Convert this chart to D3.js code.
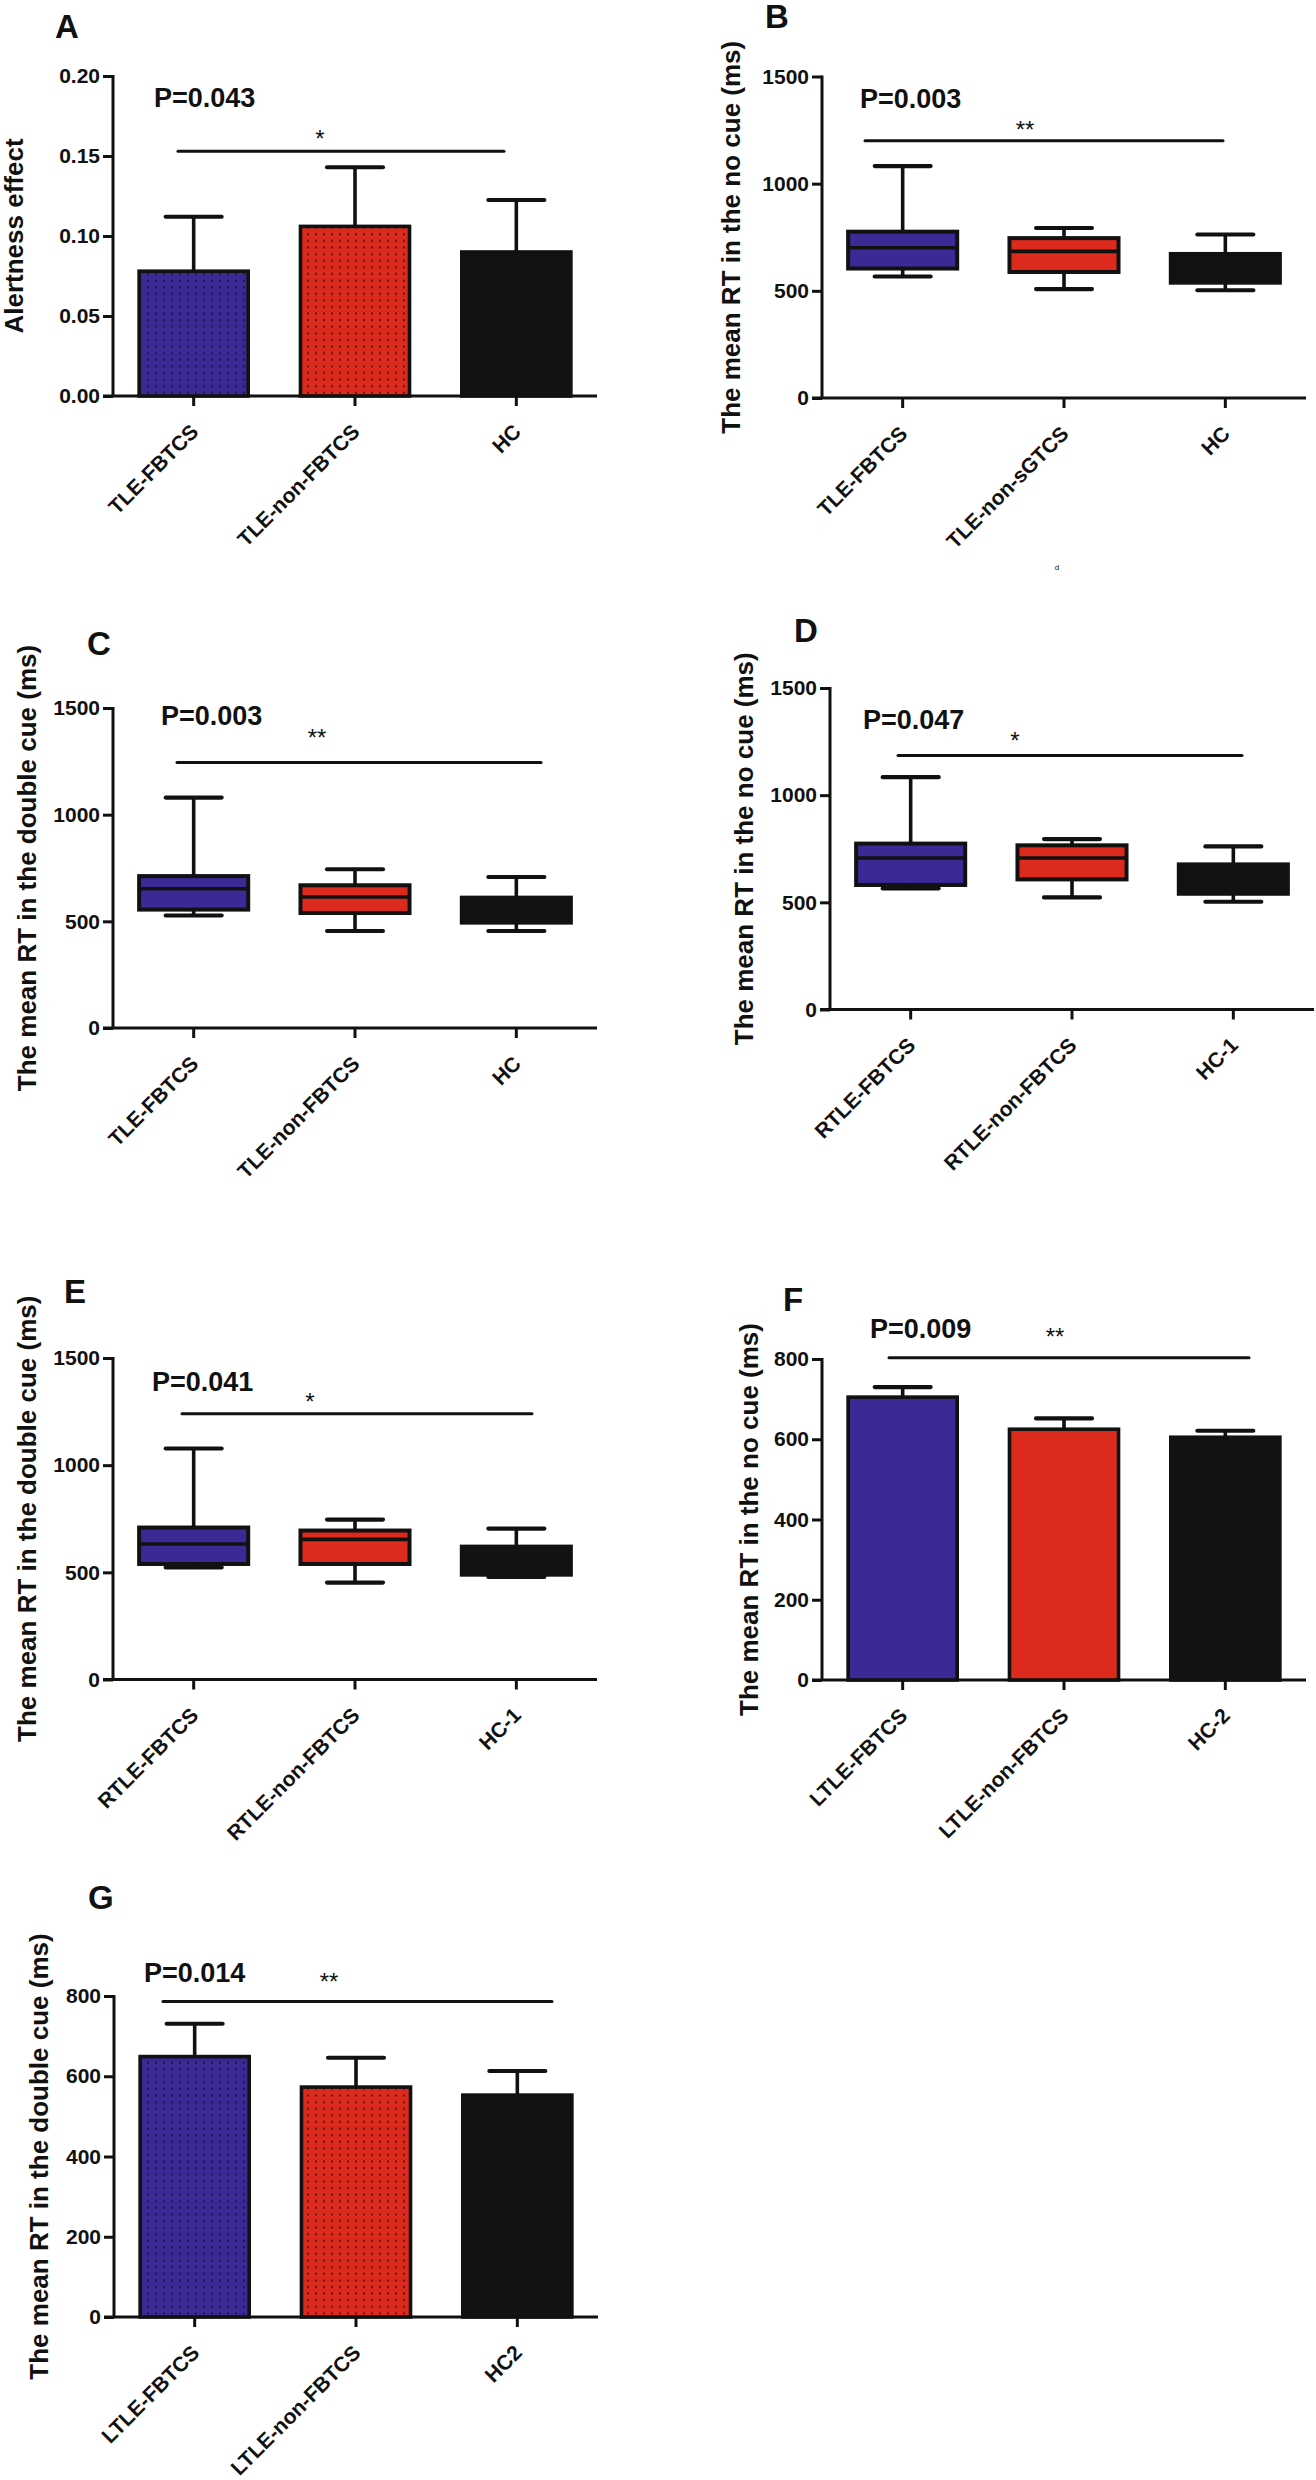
<!DOCTYPE html>
<html><head><meta charset="utf-8">
<script src="https://cdn.jsdelivr.net/npm/d3@7"></script>
<style>
body{margin:0;background:#fff}
svg{display:block}
text{font-family:"Liberation Sans",Arial,Helvetica,sans-serif;fill:#111}
</style>
</head><body>
<svg id="c" width="1316" height="2480"></svg>
<script>
// ---------------- DATA ----------------
// Panel A: bar (mean + upper error)
const catsA = ["TLE-FBTCS", "TLE-non-FBTCS", "HC"];
const meanA = [0.078, 0.106, 0.090];
const errTopA = [0.112, 0.143, 0.1225];
const ticksA = [0, 0.05, 0.10, 0.15, 0.20];

// Panel B: box plots [min, q1, median, q3, max]
const catsB = ["TLE-FBTCS", "TLE-non-sGTCS", "HC"];
const boxB = [[567, 604, 701, 776, 1082], [508, 588, 684, 746, 793], [503, 538, 615, 672, 763]];
const ticksB = [0, 500, 1000, 1500];

// Panel C
const catsC = ["TLE-FBTCS", "TLE-non-FBTCS", "HC"];
const boxC = [[527, 555, 653, 712, 1080], [455, 539, 614, 669, 744], [455, 494, 560, 611, 708]];
const ticksC = [0, 500, 1000, 1500];

// Panel D
const catsD = ["RTLE-FBTCS", "RTLE-non-FBTCS", "HC-1"];
const boxD = [[565, 581, 707, 774, 1084], [523, 607, 707, 766, 795], [503, 540, 620, 677, 761]];
const ticksD = [0, 500, 1000, 1500];

// Panel E
const catsE = ["RTLE-FBTCS", "RTLE-non-FBTCS", "HC-1"];
const boxE = [[523, 539, 632, 709, 1078], [452, 539, 654, 695, 746], [478, 489, 560, 620, 704]];
const ticksE = [0, 500, 1000, 1500];

// Panel F: bars
const catsF = ["LTLE-FBTCS", "LTLE-non-FBTCS", "HC-2"];
const meanF = [705, 625, 605];
const errTopF = [730, 652, 621];
const ticksF = [0, 200, 400, 600, 800];

// Panel G: bars
const catsG = ["LTLE-FBTCS", "LTLE-non-FBTCS", "HC2"];
const meanG = [649, 573, 553];
const errTopG = [731, 646, 613];
const ticksG = [0, 200, 400, 600, 800];

const pValues = ["P=0.043", "P=0.003", "P=0.003", "P=0.047", "P=0.041", "P=0.009", "P=0.014"];
const stars = ["*", "**", "**", "*", "*", "**", "**"];
const sigLevel = [0.153, 1200, 1245, 1185, 1240, 803, 786];
const yTitles = ["Alertness effect", "The mean RT in the no cue (ms)", "The mean RT in the double cue (ms)",
  "The mean RT in the no cue (ms)", "The mean RT in the double cue (ms)", "The mean RT in the no cue (ms)",
  "The mean RT in the double cue (ms)"];
const letters = ["A", "B", "C", "D", "E", "F", "G"];

// ---------------- STYLE ----------------
const groupColors = ["#3b2a96", "#dc2a1d", "#121212"];
const svg = d3.select("#c");
const defs = svg.append("defs");
function dotPattern(id, color) {
  const p = defs.append("pattern").attr("id", id).attr("patternUnits", "userSpaceOnUse")
    .attr("width", 8).attr("height", 6.6);
  p.append("rect").attr("width", 8).attr("height", 6.6).attr("fill", color);
  p.append("rect").attr("x", 3).attr("y", 2.5).attr("width", 1.7).attr("height", 1.7).attr("fill", "#141414");
}
dotPattern("dotBlue", groupColors[0]);
dotPattern("dotRed", groupColors[1]);
const dottedFills = ["url(#dotBlue)", "url(#dotRed)", groupColors[2]];

// layout (pixel geometry only)
const layouts = [
  {x0: 113, x1: 597, yt: 76, yb: 396, letter: [55, 38], p: [154, 107], star: [320, 147], sig: [178, 504], ylab: 14},
  {x0: 822, x1: 1306, yt: 76.5, yb: 398, letter: [765, 28], p: [860, 108], star: [1025, 138], sig: [865, 1223], ylab: 731},
  {x0: 113, x1: 597, yt: 708, yb: 1028, letter: [87, 655], p: [161, 725], star: [317, 746], sig: [177, 541], ylab: 27},
  {x0: 830, x1: 1314, yt: 688, yb: 1009.5, letter: [794, 642], p: [863, 729], star: [1015, 749], sig: [898, 1242], ylab: 744},
  {x0: 113, x1: 597, yt: 1358, yb: 1679.5, letter: [64, 1303], p: [152, 1391], star: [310, 1410], sig: [182, 532], ylab: 27},
  {x0: 822, x1: 1306, yt: 1359, yb: 1680, letter: [783, 1311], p: [870, 1338], star: [1055, 1345], sig: [889, 1249], ylab: 749},
  {x0: 114, x1: 598, yt: 1996, yb: 2317, letter: [88, 1909], p: [144, 1982], star: [329, 1990], sig: [163, 552], ylab: 39}
];

const LW = 3.6;

function frame(i, cats, ticks, fmt) {
  const L = layouts[i];
  const g = svg.append("g");
  const x = d3.scaleBand().domain(cats).range([L.x0, L.x1]).paddingInner(0.324).paddingOuter(0.162);
  const y = d3.scaleLinear().domain([0, ticks[ticks.length - 1]]).range([L.yb, L.yt]);

  const ya = g.append("g").attr("transform", `translate(${L.x0},0)`)
    .call(d3.axisLeft(y).tickValues(ticks).tickFormat(fmt).tickSize(10).tickSizeOuter(0).tickPadding(3));
  ya.select(".domain").attr("stroke", "#111").attr("stroke-width", 3).attr("d", `M0,${L.yt - 1}V${L.yb}`);
  ya.selectAll(".tick line").attr("stroke", "#111").attr("stroke-width", 3);
  ya.selectAll(".tick text").attr("font-size", 21).attr("font-weight", "bold").attr("fill", "#111")
    .style("font-family", '"Liberation Sans",Arial,sans-serif');

  const xa = g.append("g").attr("transform", `translate(0,${L.yb})`)
    .call(d3.axisBottom(x).tickSize(10).tickSizeOuter(0));
  xa.select(".domain").attr("stroke", "#111").attr("stroke-width", 3).attr("d", `M${L.x0 - 10},0H${L.x1}`);
  xa.selectAll(".tick line").attr("stroke", "#111").attr("stroke-width", 3);
  xa.selectAll(".tick text").attr("font-size", 21).attr("font-weight", "bold").attr("fill", "#111")
    .style("font-family", '"Liberation Sans",Arial,sans-serif')
    .attr("x", 0).attr("y", 0).attr("dy", 0).attr("text-anchor", "end")
    .attr("transform", "translate(6,37) rotate(-45)");

  // y title
  g.append("text").attr("transform", `translate(${L.ylab},${(L.yt + L.yb) / 2}) rotate(-90)`)
    .attr("text-anchor", "middle").attr("dy", "0.35em").attr("font-size", 26).attr("font-weight", "bold")
    .text(yTitles[i]);
  // panel letter
  g.append("text").attr("x", L.letter[0]).attr("y", L.letter[1]).attr("font-size", 33).attr("font-weight", "bold")
    .text(letters[i]);
  // p value
  g.append("text").attr("x", L.p[0]).attr("y", L.p[1]).attr("font-size", 27).attr("font-weight", "bold")
    .text(pValues[i]);
  // significance line + star
  g.append("line").attr("x1", L.sig[0]).attr("x2", L.sig[1]).attr("y1", y(sigLevel[i])).attr("y2", y(sigLevel[i]))
    .attr("stroke", "#111").attr("stroke-width", 3).attr("stroke-linecap", "round");
  g.append("text").attr("x", L.star[0]).attr("y", L.star[1]).attr("text-anchor", "middle")
    .attr("font-size", 24).text(stars[i]);
  return {g, x, y, L};
}

function bars(i, cats, means, tops, ticks, fmt, fills) {
  const {g, x, y, L} = frame(i, cats, ticks, fmt);
  const cap = 28;
  cats.forEach((c, k) => {
    const cx = x(c) + x.bandwidth() / 2;
    g.append("line").attr("x1", cx).attr("x2", cx).attr("y1", y(means[k])).attr("y2", y(tops[k]))
      .attr("stroke", "#111").attr("stroke-width", LW);
    g.append("line").attr("x1", cx - cap).attr("x2", cx + cap).attr("y1", y(tops[k])).attr("y2", y(tops[k]))
      .attr("stroke", "#111").attr("stroke-width", LW + 0.5).attr("stroke-linecap", "round");
    g.append("rect").attr("x", x(c)).attr("width", x.bandwidth()).attr("y", y(means[k]))
      .attr("height", y(0) - y(means[k])).attr("fill", fills[k]).attr("stroke", "#111").attr("stroke-width", LW);
  });
}

function boxes(i, cats, data, ticks, fmt) {
  const {g, x, y, L} = frame(i, cats, ticks, fmt);
  const cap = 28;
  cats.forEach((c, k) => {
    const [mn, q1, md, q3, mx] = data[k];
    const cx = x(c) + x.bandwidth() / 2;
    g.append("line").attr("x1", cx).attr("x2", cx).attr("y1", y(mn)).attr("y2", y(mx))
      .attr("stroke", "#111").attr("stroke-width", LW);
    [mn, mx].forEach(v => g.append("line").attr("x1", cx - cap).attr("x2", cx + cap).attr("y1", y(v)).attr("y2", y(v))
      .attr("stroke", "#111").attr("stroke-width", LW + 0.5).attr("stroke-linecap", "round"));
    g.append("rect").attr("x", x(c)).attr("width", x.bandwidth()).attr("y", y(q3)).attr("height", y(q1) - y(q3))
      .attr("fill", groupColors[k]).attr("stroke", "#111").attr("stroke-width", LW + 0.4);
    g.append("line").attr("x1", x(c)).attr("x2", x(c) + x.bandwidth()).attr("y1", y(md)).attr("y2", y(md))
      .attr("stroke", "#111").attr("stroke-width", LW);
  });
}

const f2 = d3.format(".2f"), f0 = d3.format("d");
bars(0, catsA, meanA, errTopA, ticksA, f2, dottedFills);
boxes(1, catsB, boxB, ticksB, f0);
boxes(2, catsC, boxC, ticksC, f0);
boxes(3, catsD, boxD, ticksD, f0);
boxes(4, catsE, boxE, ticksE, f0);
bars(5, catsF, meanF, errTopF, ticksF, f0, groupColors);
bars(6, catsG, meanG, errTopG, ticksG, f0, dottedFills);

// stray small mark under panel B
svg.append("text").attr("x", 1057).attr("y", 570).attr("font-size", 8).attr("text-anchor", "middle").text("d");
</script>
</body></html>
